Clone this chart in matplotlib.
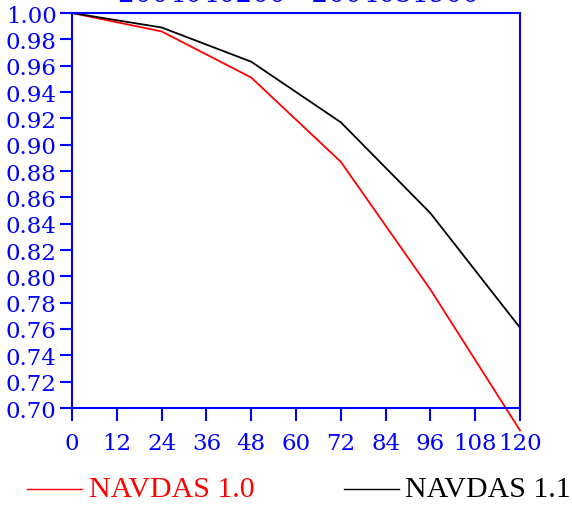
import matplotlib
matplotlib.use("Agg")
import matplotlib.pyplot as plt
from matplotlib.lines import Line2D

hours = [0, 24, 48, 72, 96, 120]
navdas_10 = [1.000, 0.986, 0.951, 0.887, 0.790, 0.683]
navdas_11 = [1.000, 0.989, 0.963, 0.917, 0.848, 0.761]
xticks = list(range(0, 121, 12))
yticks = [0.70 + 0.02 * i for i in range(16)]
title = "2004040200 - 2004051900"

W, H = 572, 506
fig = plt.figure(figsize=(W / 100, H / 100), dpi=100)
ax = fig.add_axes([72 / W, 1 - 409 / H, 448 / W, 395 / H])

ax.plot(hours, navdas_10, color="red", lw=1.3, clip_on=False)
ax.plot(hours, navdas_11, color="black", lw=1.3, clip_on=False)

ax.set_xlim(0, 120)
ax.set_ylim(0.70, 1.00)
ax.set_xticks(xticks)
ax.set_yticks(yticks)
ax.set_yticklabels([f"{v:.2f}" for v in yticks])
for lab in ax.get_xticklabels() + ax.get_yticklabels():
    lab.set_fontfamily("DejaVu Serif")
    lab.set_fontsize(16.5)
    lab.set_color("blue")
ax.tick_params(axis="both", direction="out", color="blue", width=1.5, length=9)
ax.tick_params(axis="x", pad=8)
ax.tick_params(axis="y", pad=2)
for sp in ax.spines.values():
    sp.set_color("blue")
    sp.set_linewidth(1.5)

# title sits mostly above the canvas, only its lower part shows
fig.text((118 + 480) / 2 / W, 1 - 7 / H, title, ha="center", va="bottom",
         color="blue", fontsize=19, family="DejaVu Serif")

# legend below the plot
ly = 1 - 490 / H
fig.add_artist(Line2D([27 / W, 82 / W], [ly, ly], color="red", lw=1))
fig.text(89 / W, ly, "NAVDAS 1.0", color="red", fontsize=21.5,
         family="Liberation Serif", va="center")
fig.add_artist(Line2D([344 / W, 399 / W], [ly, ly], color="black", lw=1))
fig.text(405 / W, ly, "NAVDAS 1.1", color="black", fontsize=21.5,
         family="Liberation Serif", va="center")

fig.savefig("out.png", dpi=100)
